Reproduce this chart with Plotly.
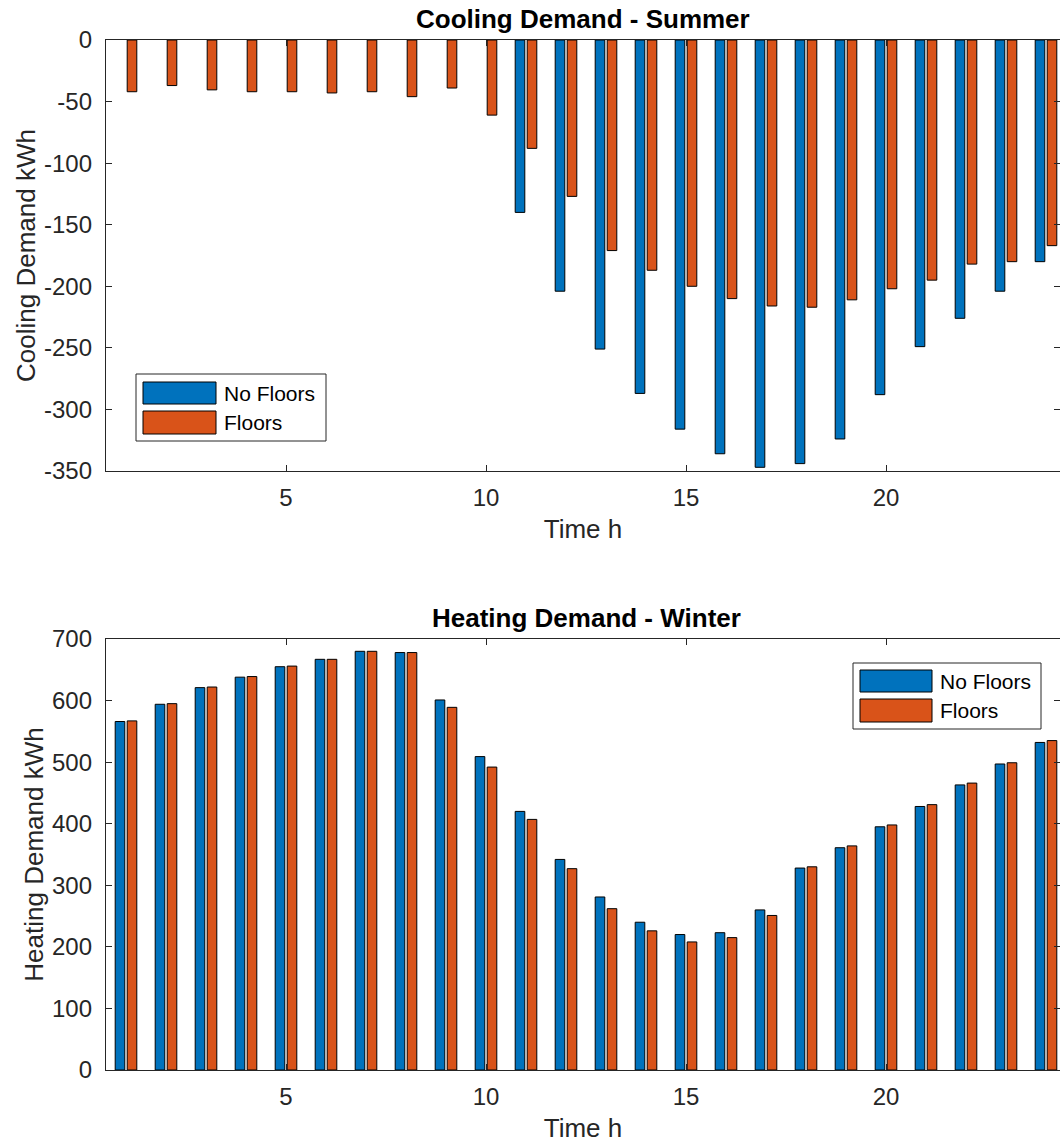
import plotly.graph_objects as go

hours = list(range(1, 25))

cool_no_floors = [0, 0, 0, 0, 0, 0, 0, 0, 0, 0,
                  -140, -204, -251, -287, -316, -336, -347, -344, -324, -288,
                  -249, -226, -204, -180]
cool_floors = [-42, -37, -40.5, -42, -42, -43, -42, -46, -39, -61,
               -88, -127, -171, -187, -200, -210, -216, -217, -211, -202,
               -195, -182, -180, -167]

heat_no_floors = [566, 594, 621, 638, 655, 667, 680, 678, 601, 509,
                  420, 342, 281, 240, 220, 223, 260, 328, 361, 395,
                  428, 463, 497, 532]
heat_floors = [567, 595, 622, 639, 656, 667, 680, 678, 589, 492,
               407, 327, 262, 226, 208, 215, 251, 330, 364, 398,
               431, 466, 499, 535]

series_names = ["No Floors", "Floors"]
series_colors = ["#0072BD", "#D95319"]

cool_ticks = [0, -50, -100, -150, -200, -250, -300, -350]
heat_ticks = [0, 100, 200, 300, 400, 500, 600, 700]
x_ticks = [5, 10, 15, 20]

W, H = 1060, 1143
FONT = "Liberation Sans, Arial, sans-serif"
AX = "#262626"
TICK_SIZE = 24
LABEL_SIZE = 26
TITLE_SIZE = 26
LEGEND_SIZE = 21


def px(x):
    return x / W


def py(y):
    return 1 - y / H


fig = go.Figure()

bar_w = 0.24
offsets = [-0.27, 0.03]

for vals, axis in [((cool_no_floors, cool_floors), ("x", "y")),
                   ((heat_no_floors, heat_floors), ("x2", "y2"))]:
    for i, v in enumerate(vals):
        fig.add_trace(go.Bar(
            x=hours, y=v, name=series_names[i], showlegend=False,
            width=bar_w, offset=offsets[i],
            marker=dict(color=series_colors[i],
                        line=dict(color="#000000", width=[0 if val == 0 else 1 for val in v])),
            xaxis=axis[0], yaxis=axis[1],
        ))

xr = [0.5, (W - 86) / 40.0]
common_x = dict(range=xr, tickvals=x_ticks, ticks="inside", ticklen=6, tickwidth=1,
                tickcolor=AX, showline=True, linecolor=AX, linewidth=1.3, mirror="ticks",
                showgrid=False, zeroline=False, automargin=False, ticklabelstandoff=5,
                tickfont=dict(family=FONT, size=TICK_SIZE, color=AX),
                title=dict(text="Time h", font=dict(family=FONT, size=LABEL_SIZE, color=AX), standoff=9))
common_y = dict(ticks="inside", ticklen=6, tickwidth=1, tickcolor=AX, showline=True,
                linecolor=AX, linewidth=1.3, mirror="ticks", showgrid=False, zeroline=False,
                automargin=False, ticklabelstandoff=8,
                tickfont=dict(family=FONT, size=TICK_SIZE, color=AX))

fig.update_layout(
    template="none",
    width=W, height=H,
    margin=dict(l=0, r=0, t=0, b=0, autoexpand=False),
    paper_bgcolor="white", plot_bgcolor="white",
    barmode="overlay",
    xaxis=dict(domain=[px(106), 1], anchor="y", **common_x),
    yaxis=dict(domain=[py(471), py(40)], anchor="x", range=[-350, 0], tickvals=cool_ticks,
               ticktext=[str(t) for t in cool_ticks],
               title=dict(text="Cooling Demand kWh", font=dict(family=FONT, size=LABEL_SIZE, color=AX), standoff=0),
               **common_y),
    xaxis2=dict(domain=[px(106), 1], anchor="y2", **common_x),
    yaxis2=dict(domain=[py(1070), py(639)], anchor="x2", range=[0, 700], tickvals=heat_ticks,
                ticktext=[str(t) for t in heat_ticks],
                title=dict(text="Heating Demand kWh", font=dict(family=FONT, size=LABEL_SIZE, color=AX), standoff=0),
                **common_y),
)

annotations = [
    dict(text="<b>Cooling Demand - Summer</b>", x=px(583), y=py(19), xref="paper", yref="paper",
         showarrow=False, font=dict(family=FONT, size=TITLE_SIZE, color="#000000"), xanchor="center", yanchor="middle"),
    dict(text="<b>Heating Demand - Winter</b>", x=px(586), y=py(618), xref="paper", yref="paper",
         showarrow=False, font=dict(family=FONT, size=TITLE_SIZE, color="#000000"), xanchor="center", yanchor="middle"),
]

shapes = []
legends = [
    dict(box=(136, 374, 326, 441), patch_x=(143, 216), rows=[(382, 404), (411, 434)], text_x=222),
    dict(box=(853, 663, 1041, 729), patch_x=(860, 932), rows=[(670, 692), (699, 722)], text_x=938),
]
for lg in legends:
    x0, y0, x1, y1 = lg["box"]
    shapes.append(dict(type="rect", xref="paper", yref="paper", x0=px(x0), x1=px(x1), y0=py(y1), y1=py(y0),
                       line=dict(color="#262626", width=1), fillcolor="white", layer="above"))
    for i, (ry0, ry1) in enumerate(lg["rows"]):
        shapes.append(dict(type="rect", xref="paper", yref="paper", x0=px(lg["patch_x"][0]), x1=px(lg["patch_x"][1]),
                           y0=py(ry1), y1=py(ry0), line=dict(color="#000000", width=1),
                           fillcolor=series_colors[i], layer="above"))
        annotations.append(dict(text=series_names[i], x=px(lg["text_x"]), y=py((ry0 + ry1) / 2),
                                xref="paper", yref="paper", showarrow=False, xanchor="left", yanchor="middle",
                                font=dict(family=FONT, size=LEGEND_SIZE, color="#000000")))

fig.update_layout(annotations=annotations, shapes=shapes)

fig.write_html("out.html", config={"displayModeBar": False},
               post_script="document.body.style.margin='0';document.body.style.overflow='hidden';")
